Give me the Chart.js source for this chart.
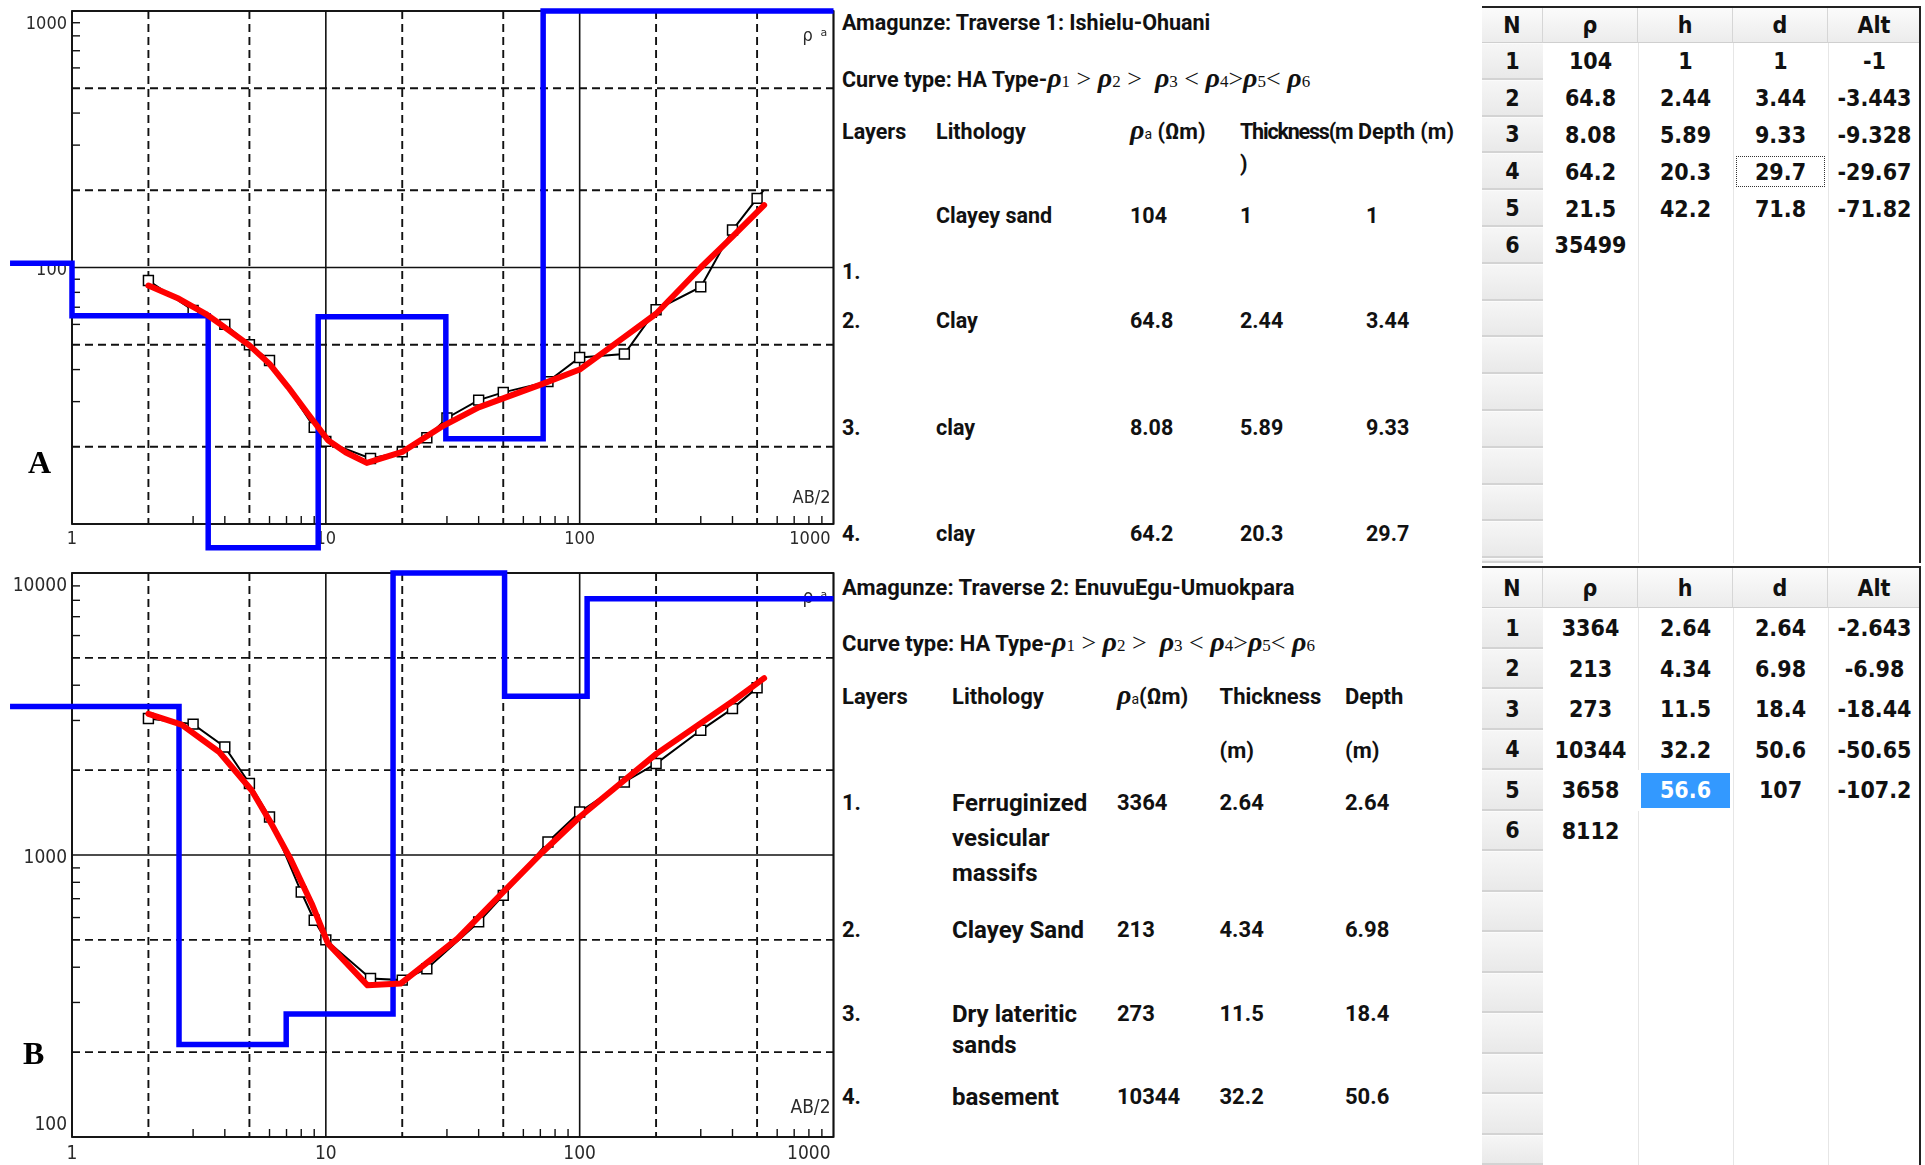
<!DOCTYPE html>
<html>
<head>
<meta charset="utf-8">
<script src="https://cdn.jsdelivr.net/npm/chart.js@4.4.1/dist/chart.umd.min.js"></script>
<style>
  body { margin: 0; width: 1925px; height: 1165px; background: #fff; position: relative; overflow: hidden; }
  canvas { position: absolute; left: 0; }
  #chartA { top: 0; }
  #chartB { top: 562px; }
  .t { position: absolute; font-family: Roboto, 'Open Sans', sans-serif; font-weight: 700; font-size: 21.5px; color: #111; white-space: nowrap; line-height: 26px; transform: translateY(-50%); }
  .t.lg { font-size: 22px; }
  .t.big { font-size: 24px; }
  .g { font-family: 'Liberation Serif', serif; font-style: italic; font-weight: bold; font-size: 28px; }
  .s { font-family: 'Liberation Serif', serif; font-weight: normal; font-size: 17px; }
  .op { font-family: 'Liberation Serif', serif; font-weight: normal; font-size: 26px; }
  .sa { font-size: 14px; font-weight: normal; }
  .panel { position: absolute; font-family: 'Liberation Serif', serif; font-weight: bold; font-size: 32px; line-height: 32px; transform: translateY(-50%); }
  .cell { position: absolute; box-sizing: border-box; font-family: 'DejaVu Sans Condensed', 'DejaVu Sans', sans-serif; font-stretch: condensed; font-weight: bold; font-size: 23px; color: #111; display: flex; align-items: center; justify-content: center; }
  .nbtn { background: linear-gradient(#f6f6f6, #e9e9e9); border-bottom: 2px solid #d3d3d3; border-top: 1px solid #fbfbfb; }
  .head { background: linear-gradient(#fbfbfb, #ececec); border-right: 1px solid #d6d6d6; border-bottom: 1px solid #cfcfcf; }
  .vline { position: absolute; width: 1px; background: #e6e6e6; }
  .edge { position: absolute; background: #222; }
</style>
</head>
<body>
<canvas id="chartA" width="842" height="560"></canvas>
<canvas id="chartB" width="842" height="603"></canvas>
<div id="text"></div>
<script>
// AB/2 axis (m) shared by both soundings
const xMin = 1, xMax = 1000;
// the layer model trace starts left of the plot, at this AB/2
const modelStart = 0.57;

// Traverse 1: field apparent resistivity (ohm-m) against AB/2 (m)
const abA = [2, 3, 4, 5, 6, 9, 10, 15, 20, 25, 30, 40, 50, 75, 100, 150, 200, 300, 400, 500, 530];
const rhoFieldA = [89, 68, 60, 50, 43.4, 23.8, 21, 18, 19.1, 21.7, 25.9, 30.4, 32.6, 35.9, 44.6, 46, 68.4, 84, 140, 186, 200];
// Traverse 1: fitted (calculated) curve
const abFitA = [2, 2.64, 3.36, 3.9, 5, 6, 7.1, 8.5, 10.2, 12, 14.5, 20, 28.5, 40, 71, 100, 147, 200, 300, 400, 533];
const rhoFitA = [85, 75.5, 66, 59.5, 49.7, 42.1, 34.2, 26.9, 21.2, 19, 17.3, 19.1, 23.9, 28.5, 35.1, 40, 52.8, 66, 100, 132, 175];
// Traverse 1: layer model
const rhoA = [104, 64.8, 8.08, 64.2, 21.5, 35499];
const hA = [1, 2.44, 5.89, 20.3, 42.2];
const dA = [1, 3.44, 9.33, 29.7, 71.8];
const altA = ['-1', '-3.443', '-9.328', '-29.67', '-71.82'];
const lithA = ['Clayey sand', 'Clay', 'clay', 'clay'];
const yTicksA = [100, 1000];

// Traverse 2
const abB = [2, 3, 4, 5, 6, 8, 9, 10, 15, 20, 25, 40, 50, 75, 100, 150, 200, 300, 400, 500, 530];
const rhoFieldB = [3050, 2912, 2416, 1792, 1364, 739, 587, 500, 365, 360, 395, 579, 719, 1112, 1421, 1815, 2110, 2768, 3304, 3918, 4170];
const abFitB = [2, 2.7, 3.8, 5.1, 6.1, 7.3, 8.8, 10.2, 14.6, 19.7, 33, 71.5, 100, 201, 406, 533];
const rhoFitB = [3168, 2900, 2318, 1696, 1292, 958, 672, 485, 345, 350, 505, 1025, 1364, 2288, 3537, 4236];
const rhoB = [3364, 213, 273, 10344, 3658, 8112];
const hB = [2.64, 4.34, 11.5, 32.2, 56.6];
const dB = [2.64, 6.98, 18.4, 50.6, 107];
const altB = ['-2.643', '-6.98', '-18.44', '-50.65', '-107.2'];
const lithB = [['Ferruginized', 'vesicular', 'massifs'], ['Clayey Sand'], ['Dry lateritic', 'sands'], ['basement']];
const yTicksB = [100, 1000, 10000];

const xTicks = [1, 10, 100, 1000];

const zip = (xs, ys) => xs.map((x, i) => ({ x, y: ys[i] }));

// step trace of the layer model; values above the axis are pinned to the top
function modelSteps(rho, depth, yMax) {
  const xs = [modelStart, ...depth, xMax];
  return xs.map((x, i) => ({ x, y: Math.min(rho[Math.min(i, rho.length - 1)], yMax) }));
}

// log-log frame: solid decades, dashed 2 and 5, short ticks for the rest
const logFrame = {
  id: 'logFrame',
  beforeDatasetsDraw(chart, args, opts) {
    const { ctx, chartArea: a, scales: { x, y } } = chart;
    const vals = (s) => {
      const out = [];
      for (let k = Math.floor(Math.log10(s.min)); k <= Math.ceil(Math.log10(s.max)); k++) {
        for (let m = 1; m <= 9; m++) {
          const v = m * Math.pow(10, k);
          if (v >= s.min * 0.999 && v <= s.max * 1.001) out.push({ v, m });
        }
      }
      return out;
    };
    ctx.save();
    ctx.strokeStyle = '#111';
    for (const { v, m } of vals(x)) {
      const px = x.getPixelForValue(v);
      ctx.beginPath();
      if (m === 1 || m === 2 || m === 5) {
        ctx.lineWidth = m === 1 ? 1.6 : 1.9;
        ctx.setLineDash(m === 1 ? [] : [8, 5]);
        ctx.moveTo(px, a.top); ctx.lineTo(px, a.bottom);
      } else {
        ctx.lineWidth = 1.4; ctx.setLineDash([]);
        ctx.moveTo(px, a.bottom); ctx.lineTo(px, a.bottom - 8);
      }
      ctx.stroke();
    }
    for (const { v, m } of vals(y)) {
      const py = y.getPixelForValue(v);
      ctx.beginPath();
      if (m === 1 || m === 2 || m === 5) {
        ctx.lineWidth = m === 1 ? 1.6 : 1.9;
        ctx.setLineDash(m === 1 ? [] : [8, 5]);
        ctx.moveTo(a.left, py); ctx.lineTo(a.right, py);
      } else {
        ctx.lineWidth = 1.4; ctx.setLineDash([]);
        ctx.moveTo(a.left, py); ctx.lineTo(a.left + 8, py);
      }
      ctx.stroke();
    }
    ctx.setLineDash([]);
    ctx.lineWidth = 1.8;
    ctx.strokeRect(a.left, a.top, a.right - a.left, a.bottom - a.top);

    // decade labels
    ctx.fillStyle = '#2a2a2a';
    ctx.font = opts.fontSize + "px 'DejaVu Sans Condensed', 'DejaVu Sans', sans-serif";
    ctx.textBaseline = 'middle';
    ctx.textAlign = 'center';
    for (const v of xTicks) {
      const px = x.getPixelForValue(v);
      const label = String(v);
      const w = ctx.measureText(label).width;
      let cx = px;
      if (cx + w / 2 > a.right - 3) cx = a.right - 3 - w / 2;
      ctx.fillText(label, cx, a.bottom + opts.xLabelGap);
    }
    ctx.textAlign = 'right';
    for (const v of opts.yTicks) {
      const py = Math.min(Math.max(y.getPixelForValue(v) + 3, a.top + 13), a.bottom - 12);
      ctx.fillText(String(v), a.left - 5, py);
    }
    // axis names
    ctx.fillText('AB/2', a.right - 3, a.bottom - opts.abGap);
    ctx.textAlign = 'left';
    ctx.fillText('ρ', a.right - 31, a.top + 25);
    ctx.font = "11px 'DejaVu Sans', sans-serif";
    ctx.fillText('a', a.right - 13, a.top + 22);
    ctx.restore();
  }
};

function makeChart(id, cfg) {
  return new Chart(document.getElementById(id), {
    type: 'line',
    data: {
      datasets: [
        { label: 'calculated', data: zip(cfg.abFit, cfg.rhoFit), borderColor: '#ff0000', borderWidth: 6,
          pointRadius: 0, borderJoinStyle: 'round', borderCapStyle: 'round', order: 1 },
        { label: 'model', data: modelSteps(cfg.rho, cfg.depth, cfg.yMax), stepped: 'before', borderColor: '#0000ff',
          borderWidth: 5.5, pointRadius: 0, order: 2, clip: { left: 72, top: 3, right: 2, bottom: 30 } },
        { label: 'field', data: zip(cfg.ab, cfg.rhoField), borderColor: '#000', borderWidth: 2, pointStyle: 'rect',
          pointRadius: (c) => c.dataIndex === cfg.ab.length - 1 ? 0 : 7,
          pointBackgroundColor: '#fff', pointBorderColor: '#000', pointBorderWidth: 1.5, order: 3 }
      ]
    },
    options: {
      responsive: false,
      animation: false,
      events: [],
      layout: { padding: cfg.pad },
      scales: {
        x: { type: 'logarithmic', min: xMin, max: xMax, display: false },
        y: { type: 'logarithmic', min: cfg.yMin, max: cfg.yMax, display: false }
      },
      plugins: {
        legend: { display: false },
        tooltip: { enabled: false },
        logFrame: cfg.frame
      }
    },
    plugins: [logFrame]
  });
}

makeChart('chartA', {
  ab: abA, rhoField: rhoFieldA, abFit: abFitA, rhoFit: rhoFitA, rho: rhoA, depth: dA,
  yMin: 10, yMax: 1000,
  pad: { left: 72, top: 11, right: 2, bottom: 36 },
  frame: { fontSize: 18, xLabelGap: 15, abGap: 26, yTicks: yTicksA }
});
makeChart('chartB', {
  ab: abB, rhoField: rhoFieldB, abFit: abFitB, rhoFit: rhoFitB, rho: rhoB, depth: dB,
  yMin: 100, yMax: 10000,
  pad: { left: 72, top: 11, right: 2, bottom: 28 },
  frame: { fontSize: 19, xLabelGap: 17, abGap: 29, yTicks: yTicksB }
});

// ---- layer descriptions ----
const host = document.getElementById('text');
function put(x, y, html, cls) {
  const el = document.createElement('div');
  el.className = cls || 't';
  el.style.left = x + 'px';
  el.style.top = y + 'px';
  el.innerHTML = html;
  host.appendChild(el);
  return el;
}
const rhoSym = (n) => `<span class="g">ρ</span><span class="s">${n}</span>`;
const op = (s) => `<span class="op">${s}</span>`;
const curveType = 'Curve type: HA Type-' + rhoSym(1) + op(' &gt; ') + rhoSym(2) + op(' &gt;&nbsp; ') + rhoSym(3) +
  op(' &lt; ') + rhoSym(4) + op('&gt;') + rhoSym(5) + op('&lt; ') + rhoSym(6);

put(28, 462, 'A', 'panel');
put(23, 1053, 'B', 'panel');

// Traverse 1 text
put(842, 23, 'Amagunze: Traverse 1: Ishielu-Ohuani');
put(842, 80, curveType);
put(842, 132, 'Layers');
put(936, 132, 'Lithology');
put(1130, 132, '<span class="g">ρ</span><span class="sa">a</span> (Ωm)');
put(1240, 132, 'Thickness(m').style.letterSpacing = '-1.2px';
put(1358, 132, 'Depth (m)');
put(1240, 164, ')');
const rowsA = [216, 321, 428, 534];
const numA = [272, 321, 428, 534];
rowsA.forEach((y, i) => {
  put(842, numA[i], (i + 1) + '.');
  put(936, y, lithA[i]);
  put(1130, y, String(rhoA[i]));
  put(1240, y, String(hA[i]));
  put(1366, y, String(dA[i]));
});

// Traverse 2 text
const tB = 't lg';
put(842, 588, 'Amagunze: Traverse 2: EnuvuEgu-Umuokpara', tB);
put(842, 643.5, curveType, tB);
put(842, 697, 'Layers', tB);
put(952, 697, 'Lithology', tB);
put(1117, 697, '<span class="g">ρ</span><span class="sa">a</span>(Ωm)', tB);
put(1219.5, 697, 'Thickness', tB);
put(1345, 697, 'Depth', tB);
put(1219.5, 750.6, '(m)', tB);
put(1345, 750.6, '(m)', tB);
const rowsB = [803, 930, 1014, 1097];
rowsB.forEach((y, i) => {
  put(842, y, (i + 1) + '.', tB);
  lithB[i].forEach((w, j) => put(952, y + j * (i === 0 ? 35 : 31), w, 't big'));
  put(1117, y, String(rhoB[i]), tB);
  put(1219.5, y, String(hB[i]), tB);
  put(1345, y, String(dB[i]), tB);
});

// ---- inversion tables ----
const cols = [1482, 1543, 1638, 1733, 1828, 1921];
function cell(x, y, w, h, txt, cls, extra) {
  const el = document.createElement('div');
  el.className = 'cell ' + (cls || '');
  Object.assign(el.style, { left: x + 'px', top: y + 'px', width: w + 'px', height: h + 'px' }, extra || {});
  el.textContent = txt;
  host.appendChild(el);
  return el;
}
function table(t, headH, rowH, bottom, rho, h, d, alt, mark) {
  const heads = ['N', 'ρ', 'h', 'd', 'Alt'];
  for (let c = 0; c < 5; c++) cell(cols[c], t, cols[c + 1] - cols[c], headH, heads[c], 'head');
  for (let c = 2; c < 5; c++) {
    const v = document.createElement('div');
    v.className = 'vline';
    Object.assign(v.style, { left: cols[c] + 'px', top: (t + headH) + 'px', height: (bottom - t - headH) + 'px' });
    host.appendChild(v);
  }
  for (let r = 0; t + headH + r * rowH < bottom; r++) {
    const y = t + headH + r * rowH;
    const hh = Math.min(rowH, bottom - y);
    cell(cols[0], y, cols[1] - cols[0], hh, r < rho.length ? String(r + 1) : '', 'nbtn');
    if (r < rho.length) cell(cols[1], y, cols[2] - cols[1], hh, String(rho[r]));
    if (r < h.length) {
      const vals = [String(h[r]), String(d[r]), alt[r]];
      for (let c = 0; c < 3; c++) {
        const el = cell(cols[c + 2], y, cols[c + 3] - cols[c + 2], hh, vals[c]);
        if (mark && mark.row === r && mark.col === c) {
          if (mark.kind === 'focus') Object.assign(el.style, { outline: '1px dotted #333', outlineOffset: '-4px' });
          else Object.assign(el.style, { background: '#3399ff', color: '#fff', boxShadow: 'inset 0 0 0 3px #fff' });
        }
      }
    }
  }
  const top = document.createElement('div');
  top.className = 'edge';
  Object.assign(top.style, { left: cols[0] + 'px', top: (t - 2) + 'px', width: (cols[5] - cols[0]) + 'px', height: '2px' });
  host.appendChild(top);
  const right = document.createElement('div');
  right.className = 'edge';
  Object.assign(right.style, { left: (cols[5] - 2) + 'px', top: (t - 2) + 'px', width: '2px', height: (bottom - t + 2) + 'px' });
  host.appendChild(right);
}
table(8, 35, 36.8, 563, rhoA, hA, dA, altA, { row: 3, col: 1, kind: 'focus' });
table(568, 40, 40.5, 1165, rhoB, hB, dB, altB, { row: 4, col: 0, kind: 'select' });
</script>
</body>
</html>
